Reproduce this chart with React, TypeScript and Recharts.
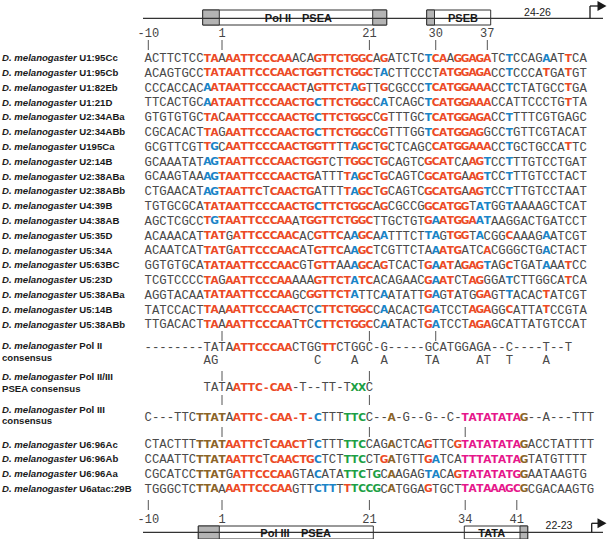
import { ScatterChart, Scatter, XAxis, YAxis, ReferenceLine, ReferenceArea, ReferenceDot } from 'recharts';

// Pol II transcribed snRNA genes (upper block)
const polIINames = ['U1:95Cc', 'U1:95Cb', 'U1:82Eb', 'U1:21D', 'U2:34ABa', 'U2:34ABb', 'U195Ca', 'U2:14B', 'U2:38ABa', 'U2:38ABb', 'U4:39B', 'U4:38AB', 'U5:35D', 'U5:34A', 'U5:63BC', 'U5:23D', 'U5:38ABa', 'U5:14B', 'U5:38ABb'];
const polIISeqs = [
    'ACTTCTCCTAAAATTCCCAAACAGTTCTGGCAGATCTCTCAAGGAGATCTCCAGAATTCA',
    'ACAGTGCCTATAATTCCCAACTGGTTCTGGCTACTTCCCTATGGAGACCTCCCATGATGT',
    'CCCACCACAATAATTCCCAACTAGTTCTAGTTGCGCCCTCATGGAAACCTCTATGCCTGA',
    'TTCACTGCAATAATTCCCAACTGCTTCTGGCCATCAGCTCATGGAAACCATTCCCTGTTA',
    'GTGTGTGCTACAATTCCCAACTGCTTCTGGCCGTTTGCTCATGGAGACCTTTTCGTGAGC',
    'CGCACACTTAGAATTCCCAACTGCTTCTGGCCGTTTGGTCATGGAGGCCTGTTCGTACAT',
    'GCGTTCGTTGCAATTCCCAACTGGTTTTAGCTGCTCAGCCATGGAAACCTGCTGCCATTC',
    'GCAAATATAGTAATTCCCAACTGGTCTTGGCTGCAGTCGCATCAAGTCCTTTGTCCTGAT',
    'GCAAGTAAAGTAATTCCCAACTGATTTTAGCTGCAGTCGCATGAAGTCCTTTGTCCTACT',
    'CTGAACATAGTAATTCTCAACTGATTTTAGCTGCAGTCGCATGAAGTCCTTTGTCCTAAT',
    'TGTGCGCATATAATTCCCAACTGCTTCTGGCAGCGCCGGCATGGTATGGTAAAAGCTCAT',
    'AGCTCGCCTGTAATTCCCAAATGGTTCTGGCTTGCTGTGAATGGAATAAGGACTGATCCT',
    'ACAAACATTATGATTCCCAACACGTTCAAGCAATTTCTTAGTGGTACGGCAAAGAATCGT',
    'ACAATCATTATGATTCCCAACATGTTCAAGCTCGTTCTAAATGATCACGGGCTGACTACT',
    'GGTGTGCATATAATTCCCAACGTGTTAAAGCAGTCACTGAATAGAGTAGCTGATAAATCC',
    'TCGTCCCCTAGAATTCCCAAAAAGTTCTATCACAGAACGAATCTAGGGATCTTGGCATCA',
    'AGGTACAATATAATTCCCAAGCGGTTCTATTCAATATTGAGTATGGAGTTACACTATCGT',
    'TATCCACTTAAAATTCCCAACTCCTTCTGGCCAACACTGATCCTAGAGGCATTATCCGTA',
    'TTGACACTTAAAATTCCCAATTCCTTCTGGCCAATACTGATCCTAGAGCATTATGTCCAT',
];
// r = matches consensus, b = matches alternative base, g/n/m = Pol III elements
const polIIMarks = [
    '........rr.rrrrrrrrr...rrrrrrrr.r.....brr.rrrrr..b....b..r..',
    '........rrrrrrrrrrrrrrrrrrrrrrr.b.......rrrrrrr..b....r..r..',
    '........brrrrrrrrrrrrr.rrrrrbr..r.....brrrrrrrr..b.......r..',
    '........brrrrrrrrrrrrrrbrrrrrrr.b.....brrrrrrrr..........r..',
    '........rr.rrrrrrrrrrrrbrrrrrrr.r.....brrrrrrrr..b..........',
    '........rr.rrrrrrrrrrrrbrrrrrrr.r.....brrrrrrr...b..........',
    '........rb.rrrrrrrrrrrrrrr.rbrr.r......rrrrrrrr..b.......r..',
    '........bbrrrrrrrrrrrrrrr..rrrr.r.....rrrr..rrb..b..........',
    '........bbrrrrrrrrrrrrr....rbrr.r.....rrrrr.rrb..b..........',
    '........bbrrrrrr.rrrrrr....rbrr.r.....rrrrr.rrb..b..........',
    '........rrrrrrrrrrrrrrrbrrrrrrr.r.....rrrrrr.bb..b..........',
    '........rbrrrrrrrrrr.rrrrrrrrrr.......rbrrrrrbb.............',
    '........rrr.rrrrrrrrr..rrrr.brr.b.....bb.rrr.b...r....b.....',
    '........rrr.rrrrrrrrr..rrrr.brr........brrr...r.......b.....',
    '........rrrrrrrrrrrrr..rrr..brr.r.....rbrr.rrrb..r....b..r..',
    '........rr.rrrrrrrrr...rrrrrbrr.......rbrr..rr...b.......r..',
    '........rrrrrrrrrrrr..rrrrrrb...b.....rb.r...rr..b....r.....',
    '........rr.rrrrrrrrrrr.brrrrrrr.b.....rb....rrr..r....r.....',
    '........rr.rrrrrrrrr.r.brrrrrrr.b.....rb....rrr.............',
];

const polIIConsensus = '--------TATAATTCCCAACTGGTTCTGGC-G-----GCATGGAGA--C----T--T';
const polIIConsensusMarks = '............rrrrrrrr....rr';
// [position, base] alternatives written under the Pol II consensus
const polIIAlternatives: [number, string][] = [[-2, 'A'], [-1, 'G'], [14, 'C'], [19, 'A'], [23, 'A'], [29, 'T'], [30, 'A'], [36, 'A'], [37, 'T'], [40, 'T'], [45, 'A']];

const pseaConsensus = '        TATAATTC-CAA-T--TT-TXXC';
const pseaConsensusMarks = '............rrrrrrrr........gg';

const polIIIConsensus = 'C---TTCTTATAATTC-CAA-T-CTTTTTCC--A-G--G--C-TATATATAG--A---TTT';
const polIIIConsensusMarks = '.......nnnn.rrrrrrrrrrrb...ggg...n.........mmmmmmmmn';

// Pol III transcribed U6 genes (lower block)
const u6Names = ['U6:96Ac', 'U6:96Ab', 'U6:96Aa', 'U6atac:29B'];
const u6Seqs = [
    'CTACTTTTTATAATTCTCAACTTCTTTTTCCAGACTCAGTTCGTATATATAGACCTATTTT',
    'CCAATTCTTATAATTCTCAACTGCTCTTTCCTGATGTTGATCATTTATATAGTATGTTTT',
    'CGCATCCTTATGATTCCCAAGTACATATTCTGCAAGAGTACAGTATATATGGAATAAGTG',
    'TGGGCTCTTAAAATTCCCAAGTTCTTTTTCCGCATGGAGTGCTTATAAAGCGCGACAAGTG',
];
const u6Marks = [
    '.......nnnnrrrrr.rrrrr.b...ggg...n....r...rmmmmmmmmn',
    '.......nnnnrrrrr.rrrrrrb...ggg..rn....rb...mmmmmmmmn',
    '.......nnnn.rrrrrrrr...b...ggg.g.n....bb..rmmmmmmmmn',
    '.......nnn.rrrrrrrrr...bbb.rgggg.n....r....mmmmmmmmn',
];

const topTickPositions = [-10, 1, 21, 30, 37];
const bottomTickPositions = [-10, 1, 21, 34, 41];
const midTickPositions = [[1, 21, 30], [1, 21], [1, 21], [1, 21, 34]];

// ---- layout ----
const W = 608;
const H = 539;
const COL0 = 148.3;
const PITCH = 7.37;
const col = (pos: number) => (pos < 0 ? pos + 10 : pos + 9); // no position 0
const colLabel = (c: number) => (c < 10 ? c - 10 : c - 9);
const px2col = (px: number) => (px - COL0) / PITCH;
const X_DOMAIN = [px2col(0), px2col(W)];

const ROW_TOP = 57.7;
const ROW_STEP = 14.8;
const polIIRowY = polIINames.map((_, i) => ROW_TOP + ROW_STEP * i);
const CONS_II_Y = 346.7;
const ALT_Y = 359.7;
const PSEA_Y = 386.7;
const CONS_III_Y = 416.7;
const u6RowY = u6Names.map((_, i) => 444 + ROW_STEP * i);
const midTickY = [[331, 341], [371, 381], [395, 405], [427, 437]];

const COLORS: Record<string, string> = { r: '#ec4a26', b: '#1a84c7', g: '#1c9f45', n: '#8b6428', m: '#e6178b' };

type Letter = { x: number; y: number; ch: string; cls: string };

function lettersOf(seq: string, marks: string, y: number): Letter[] {
    const out: Letter[] = [];
    seq.split('').forEach((ch, i) => {
        if (ch !== ' ') out.push({ x: i, y, ch, cls: marks[i] || '.' });
    });
    return out;
}

const letters: Letter[] = [
    ...polIISeqs.flatMap((s, i) => lettersOf(s, polIIMarks[i], polIIRowY[i])),
    ...lettersOf(polIIConsensus, polIIConsensusMarks, CONS_II_Y),
    ...polIIAlternatives.map(([p, ch]) => ({ x: col(p), y: ALT_Y, ch, cls: '.' })),
    ...lettersOf(pseaConsensus, pseaConsensusMarks, PSEA_Y),
    ...lettersOf(polIIIConsensus, polIIIConsensusMarks, CONS_III_Y),
    ...u6Seqs.flatMap((s, i) => lettersOf(s, u6Marks[i], u6RowY[i])),
];

type LabelLine = { dy: number; italic?: string; text: string };
const labels: { y: number; lines: LabelLine[] }[] = [
    ...polIINames.map((n, i) => ({ y: polIIRowY[i], lines: [{ dy: 0, italic: 'D. melanogaster', text: ' ' + n }] })),
    { y: CONS_II_Y, lines: [{ dy: -1.5, italic: 'D. melanogaster', text: ' Pol II' }, { dy: 10.5, text: 'consensus' }] },
    { y: PSEA_Y, lines: [{ dy: -10, italic: 'D. melanogaster', text: ' Pol II/III' }, { dy: 1.8, text: 'PSEA consensus' }] },
    { y: CONS_III_Y, lines: [{ dy: -7.4, italic: 'D. melanogaster', text: ' Pol III' }, { dy: 4.2, text: 'consensus' }] },
    ...u6Names.map((n, i) => ({ y: u6RowY[i], lines: [{ dy: 0, italic: 'D. melanogaster', text: ' ' + n }] })),
];
const labelByY = new Map(labels.map((l) => [Math.round(l.y * 10), l]));

const SANS = "'Liberation Sans', Arial, sans-serif";
const MONO = "'Liberation Mono', 'Courier New', monospace";

const renderLetter = (props: any) => {
    const { cx, cy, payload } = props;
    if (payload.cls === '.') {
        return (
            <text x={cx} y={cy + 4.3} textAnchor="middle" fontFamily={MONO} fontSize={12.3} fill="#4a4a4a">
                {payload.ch}
            </text>
        );
    }
    return (
        <text x={cx} y={cy + 3.9} textAnchor="middle" fontFamily="'DejaVu Sans', sans-serif" fontWeight="bold"
            fontSize={10.6} fill={COLORS[payload.cls]}>
            {payload.ch}
        </text>
    );
};

const NameTick = (props: any) => {
    const { y, payload } = props;
    const lab = labelByY.get(Math.round(payload.value * 10));
    if (!lab) return null;
    return (
        <g>
            {lab.lines.map((ln, k) => (
                <text key={k} x={2} y={y + ln.dy + 3.5} fontFamily={SANS} fontSize={9.6} fontWeight="bold" fill="#1a1a1a">
                    {ln.italic && <tspan fontStyle="italic">{ln.italic}</tspan>}
                    <tspan>{ln.text}</tspan>
                </text>
            ))}
        </g>
    );
};

const PosTick = (props: any) => {
    const { x, payload, textY, lineY1, lineY2 } = props;
    return (
        <g>
            <text x={x} y={textY} textAnchor="middle" fontFamily={MONO} fontSize={12} fill="#444">
                {colLabel(payload.value)}
            </text>
            <line x1={x} x2={x} y1={lineY1} y2={lineY2} stroke="#555" strokeWidth={1} />
        </g>
    );
};

const textShape = (label: string, size: number, bold: boolean, family = SANS, fill = '#1a1a1a') => (p: any) => (
    <text x={p.cx} y={p.cy} textAnchor="middle" dominantBaseline="central" fontFamily={family}
        fontSize={size} fontWeight={bold ? 'bold' : 'normal'} fill={fill}>
        {label}
    </text>
);
const arrowHead = (p: any) => (
    <path d={`M${p.cx},${p.cy - 5} L${p.cx + 9},${p.cy} L${p.cx},${p.cy + 5} Z`} fill="#1a1a1a" />
);

const AX = { xAxisId: 'top', yAxisId: 'left' };

export default function App() {
    const topY = 18.3;
    const botY = 532.3;
    return (
        <div style={{ position: 'absolute', left: 0, top: 0, width: W, height: H, background: '#fff' }}>
            <ScatterChart width={W} height={H} margin={{ top: 0, right: 0, bottom: 0, left: 0 }}>
                <XAxis xAxisId="top" type="number" dataKey="x" domain={X_DOMAIN} orientation="top" mirror
                    ticks={topTickPositions.map(col)} interval={0} axisLine={false} tickLine={false}
                    tick={(p: any) => <PosTick {...p} textY={37} lineY1={40} lineY2={50} />} />
                <YAxis yAxisId="left" type="number" dataKey="y" domain={[0, H]} reversed mirror
                    ticks={labels.map((l) => l.y)} interval={0} axisLine={false} tickLine={false}
                    tick={(p: any) => <NameTick {...p} />} />

                {/* top gene diagram: Pol II */}
                <ReferenceLine {...AX} segment={[{ x: px2col(143), y: topY }, { x: px2col(603), y: topY }]} stroke="#333" strokeWidth={1.2} />
                <ReferenceArea {...AX} x1={px2col(202.7)} x2={px2col(386.7)} y1={10} y2={25} fill="#fff" fillOpacity={1} stroke="#333" />
                <ReferenceArea {...AX} x1={px2col(202.7)} x2={px2col(219.3)} y1={10} y2={25} fill="#b4b4b4" fillOpacity={1} stroke="#333" />
                <ReferenceArea {...AX} x1={px2col(372.7)} x2={px2col(386.7)} y1={10} y2={25} fill="#b4b4b4" fillOpacity={1} stroke="#333" />
                <ReferenceArea {...AX} x1={px2col(426.7)} x2={px2col(490.7)} y1={10} y2={25} fill="#fff" fillOpacity={1} stroke="#333" />
                <ReferenceArea {...AX} x1={px2col(426.7)} x2={px2col(434.5)} y1={10} y2={25} fill="#b4b4b4" fillOpacity={1} stroke="#333" />
                <ReferenceDot {...AX} x={px2col(278)} y={17.5} r={0} shape={textShape('Pol II', 11, true)} />
                <ReferenceDot {...AX} x={px2col(317)} y={17.5} r={0} shape={textShape('PSEA', 11, true)} />
                <ReferenceDot {...AX} x={px2col(463)} y={17.5} r={0} shape={textShape('PSEB', 11, true)} />
                <ReferenceDot {...AX} x={px2col(537.5)} y={11.5} r={0} shape={textShape('24-26', 10.5, false)} />
                <ReferenceLine {...AX} segment={[{ x: px2col(590), y: topY }, { x: px2col(590), y: 6 }]} stroke="#1a1a1a" strokeWidth={1.3} />
                <ReferenceLine {...AX} segment={[{ x: px2col(590), y: 6 }, { x: px2col(598), y: 6 }]} stroke="#1a1a1a" strokeWidth={1.3} />
                <ReferenceDot {...AX} x={px2col(597.5)} y={6} r={0} shape={arrowHead} />

                {/* tick marks between blocks */}
                {midTickPositions.flatMap((ps, k) =>
                    ps.map((p) => (
                        <ReferenceLine key={`t${k}-${p}`} {...AX} segment={[{ x: col(p), y: midTickY[k][0] }, { x: col(p), y: midTickY[k][1] }]} stroke="#555" strokeWidth={1} />
                    ))
                )}

                {/* bottom position ruler */}
                {bottomTickPositions.map((p) => (
                    <ReferenceLine key={`b${p}`} {...AX} segment={[{ x: col(p), y: 500 }, { x: col(p), y: 510 }]} stroke="#555" strokeWidth={1} />
                ))}
                {bottomTickPositions.map((p) => (
                    <ReferenceDot key={`bl${p}`} {...AX} x={col(p)} y={519.5} r={0} shape={textShape(String(p), 12, false, MONO, '#444')} />
                ))}

                {/* bottom gene diagram: Pol III */}
                <ReferenceLine {...AX} segment={[{ x: px2col(143), y: botY }, { x: px2col(603), y: botY }]} stroke="#333" strokeWidth={1.2} />
                <ReferenceArea {...AX} x1={px2col(198.3)} x2={px2col(373.3)} y1={526} y2={539} fill="#fff" fillOpacity={1} stroke="#333" />
                <ReferenceArea {...AX} x1={px2col(198.3)} x2={px2col(219.3)} y1={526} y2={539} fill="#b4b4b4" fillOpacity={1} stroke="#333" />
                <ReferenceArea {...AX} x1={px2col(464.3)} x2={px2col(527.7)} y1={526} y2={539} fill="#fff" fillOpacity={1} stroke="#333" />
                <ReferenceArea {...AX} x1={px2col(520)} x2={px2col(527.7)} y1={526} y2={539} fill="#b4b4b4" fillOpacity={1} stroke="#333" />
                <ReferenceDot {...AX} x={px2col(275)} y={533} r={0} shape={textShape('Pol III', 11, true)} />
                <ReferenceDot {...AX} x={px2col(316)} y={533} r={0} shape={textShape('PSEA', 11, true)} />
                <ReferenceDot {...AX} x={px2col(491.7)} y={533} r={0} shape={textShape('TATA', 11, true)} />
                <ReferenceDot {...AX} x={px2col(559)} y={525} r={0} shape={textShape('22-23', 10.5, false)} />
                <ReferenceLine {...AX} segment={[{ x: px2col(591.7), y: botY }, { x: px2col(591.7), y: 523.3 }]} stroke="#1a1a1a" strokeWidth={1.3} />
                <ReferenceLine {...AX} segment={[{ x: px2col(591.7), y: 523.3 }, { x: px2col(598), y: 523.3 }]} stroke="#1a1a1a" strokeWidth={1.3} />
                <ReferenceDot {...AX} x={px2col(597.5)} y={523.3} r={0} shape={arrowHead} />

                <Scatter {...AX} data={letters} shape={renderLetter} isAnimationActive={false} />
            </ScatterChart>
        </div>
    );
}
